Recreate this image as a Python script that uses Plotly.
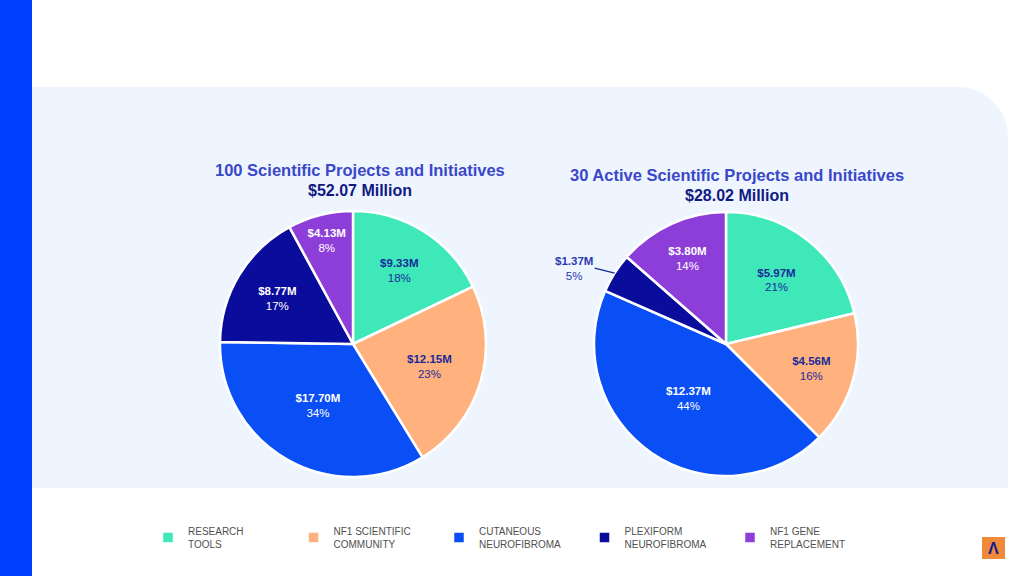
import math
import plotly.graph_objects as go

W, H = 1024, 576

categories = ["RESEARCH<br>TOOLS", "NF1 SCIENTIFIC<br>COMMUNITY", "CUTANEOUS<br>NEUROFIBROMA",
              "PLEXIFORM<br>NEUROFIBROMA", "NF1 GENE<br>REPLACEMENT"]
all_projects = [9.33, 12.15, 17.70, 8.77, 4.13]
active_projects = [5.97, 4.56, 12.37, 1.37, 3.80]
titles = ["100 Scientific Projects and Initiatives", "30 Active Scientific Projects and Initiatives"]
totals = ["$52.07 Million", "$28.02 Million"]

colors = ["#3ee8b9", "#ffb27e", "#0a4ef5", "#0a0c9c", "#8e3ed8"]
text_cols = ["#1a2a9a", "#1a2a9a", "white", "white", "white"]
FONT = "Arial, Liberation Sans, sans-serif"


def px(x):
    return x / W


def py(y):
    return 1 - y / H


def dom(cx, cy, r):
    return dict(x=[px(cx - r), px(cx + r)], y=[py(cy + r), py(cy - r)])


fig = go.Figure()

pies = [(353, 344, 133, all_projects), (726, 344, 132, active_projects)]
for i, (cx, cy, r, vals) in enumerate(pies):
    tpos = ["inside"] * len(vals)
    if i == 1:
        tpos[3] = "none"
    fig.add_trace(go.Pie(
        labels=categories, values=vals, sort=False, direction="clockwise", rotation=0,
        marker=dict(colors=colors, line=dict(color="white", width=2.5)),
        texttemplate="<b>$%{value:.2f}M</b><br>%{percent:.0%}",
        textposition=tpos, insidetextorientation="horizontal",
        insidetextfont=dict(color=text_cols, size=11.5, family=FONT),
        hoverinfo="label+value+percent",
        domain=dom(cx, cy, r), showlegend=(i == 0),
    ))

# outside label for the small plexiform slice in the second pie
cx, cy, r, vals = pies[1]
frac = (sum(vals[:3]) + vals[3] / 2) / sum(vals)
ang = 2 * math.pi * frac
ex, ey = cx + r * math.sin(ang), cy - r * math.cos(ang)
fig.add_annotation(
    x=px(ex), y=py(ey), xref="paper", yref="paper",
    text=f"<b>${vals[3]:.2f}M</b><br>{vals[3] / sum(vals):.0%}",
    showarrow=True, arrowhead=0, arrowwidth=1.5, arrowcolor="#1a2a9a",
    ax=-20, ay=-5, align="center", xanchor="right",
    font=dict(color="#2a3ab0", size=11.5, family=FONT),
)

# titles
for (tx, ty), t, tot in zip([(360, 170), (737, 175)], titles, totals):
    fig.add_annotation(x=px(tx), y=py(ty), xref="paper", yref="paper", showarrow=False,
                       xanchor="center", yanchor="middle",
                       text=f"<b>{t}</b>", font=dict(size=16.5, color="#3a47c9", family=FONT))
    fig.add_annotation(x=px(tx), y=py(ty + 20), xref="paper", yref="paper", showarrow=False,
                       xanchor="center", yanchor="middle",
                       text=f"<b>{tot}</b>", font=dict(size=16, color="#111a82", family=FONT))

# background: blue side bar, light panel with rounded top-right corner
x0, x1, y0, y1, rc = 32, 1008, 87, 488, 50
k = 0.55
path = (f"M {px(x0)},{py(y0)} L {px(x1 - rc)},{py(y0)} "
        f"C {px(x1 - rc + rc * k)},{py(y0)} {px(x1)},{py(y0 + rc - rc * k)} {px(x1)},{py(y0 + rc)} "
        f"L {px(x1)},{py(y1)} L {px(x0)},{py(y1)} Z")
shapes = [
    dict(type="rect", xref="paper", yref="paper", x0=0, x1=px(32), y0=0, y1=1,
         fillcolor="#0040ff", line=dict(width=0), layer="below"),
    dict(type="path", xref="paper", yref="paper", path=path,
         fillcolor="#eef5ff", line=dict(width=0), layer="below"),
    dict(type="rect", xref="paper", yref="paper", x0=px(982), x1=px(1005), y0=py(559), y1=py(537),
         fillcolor="#f08a3a", line=dict(width=0)),
]
fig.add_annotation(x=px(993.5), y=py(548), xref="paper", yref="paper", showarrow=False,
                   xanchor="center", yanchor="middle",
                   text="<b>Λ</b>", font=dict(size=16, color="#141c8c", family=FONT))

fig.update_layout(
    width=W, height=H, margin=dict(l=0, r=0, t=0, b=0),
    paper_bgcolor="white", plot_bgcolor="white", shapes=shapes,
    legend=dict(orientation="h", x=px(148), y=py(518), xanchor="left", yanchor="top",
                entrywidth=100.5, entrywidthmode="pixels", traceorder="normal",
                font=dict(size=10, color="#505050", family=FONT), itemclick=False),
)

fig.write_html("out.html", config={"displayModeBar": False},
               post_script="document.body.style.margin='0';")
